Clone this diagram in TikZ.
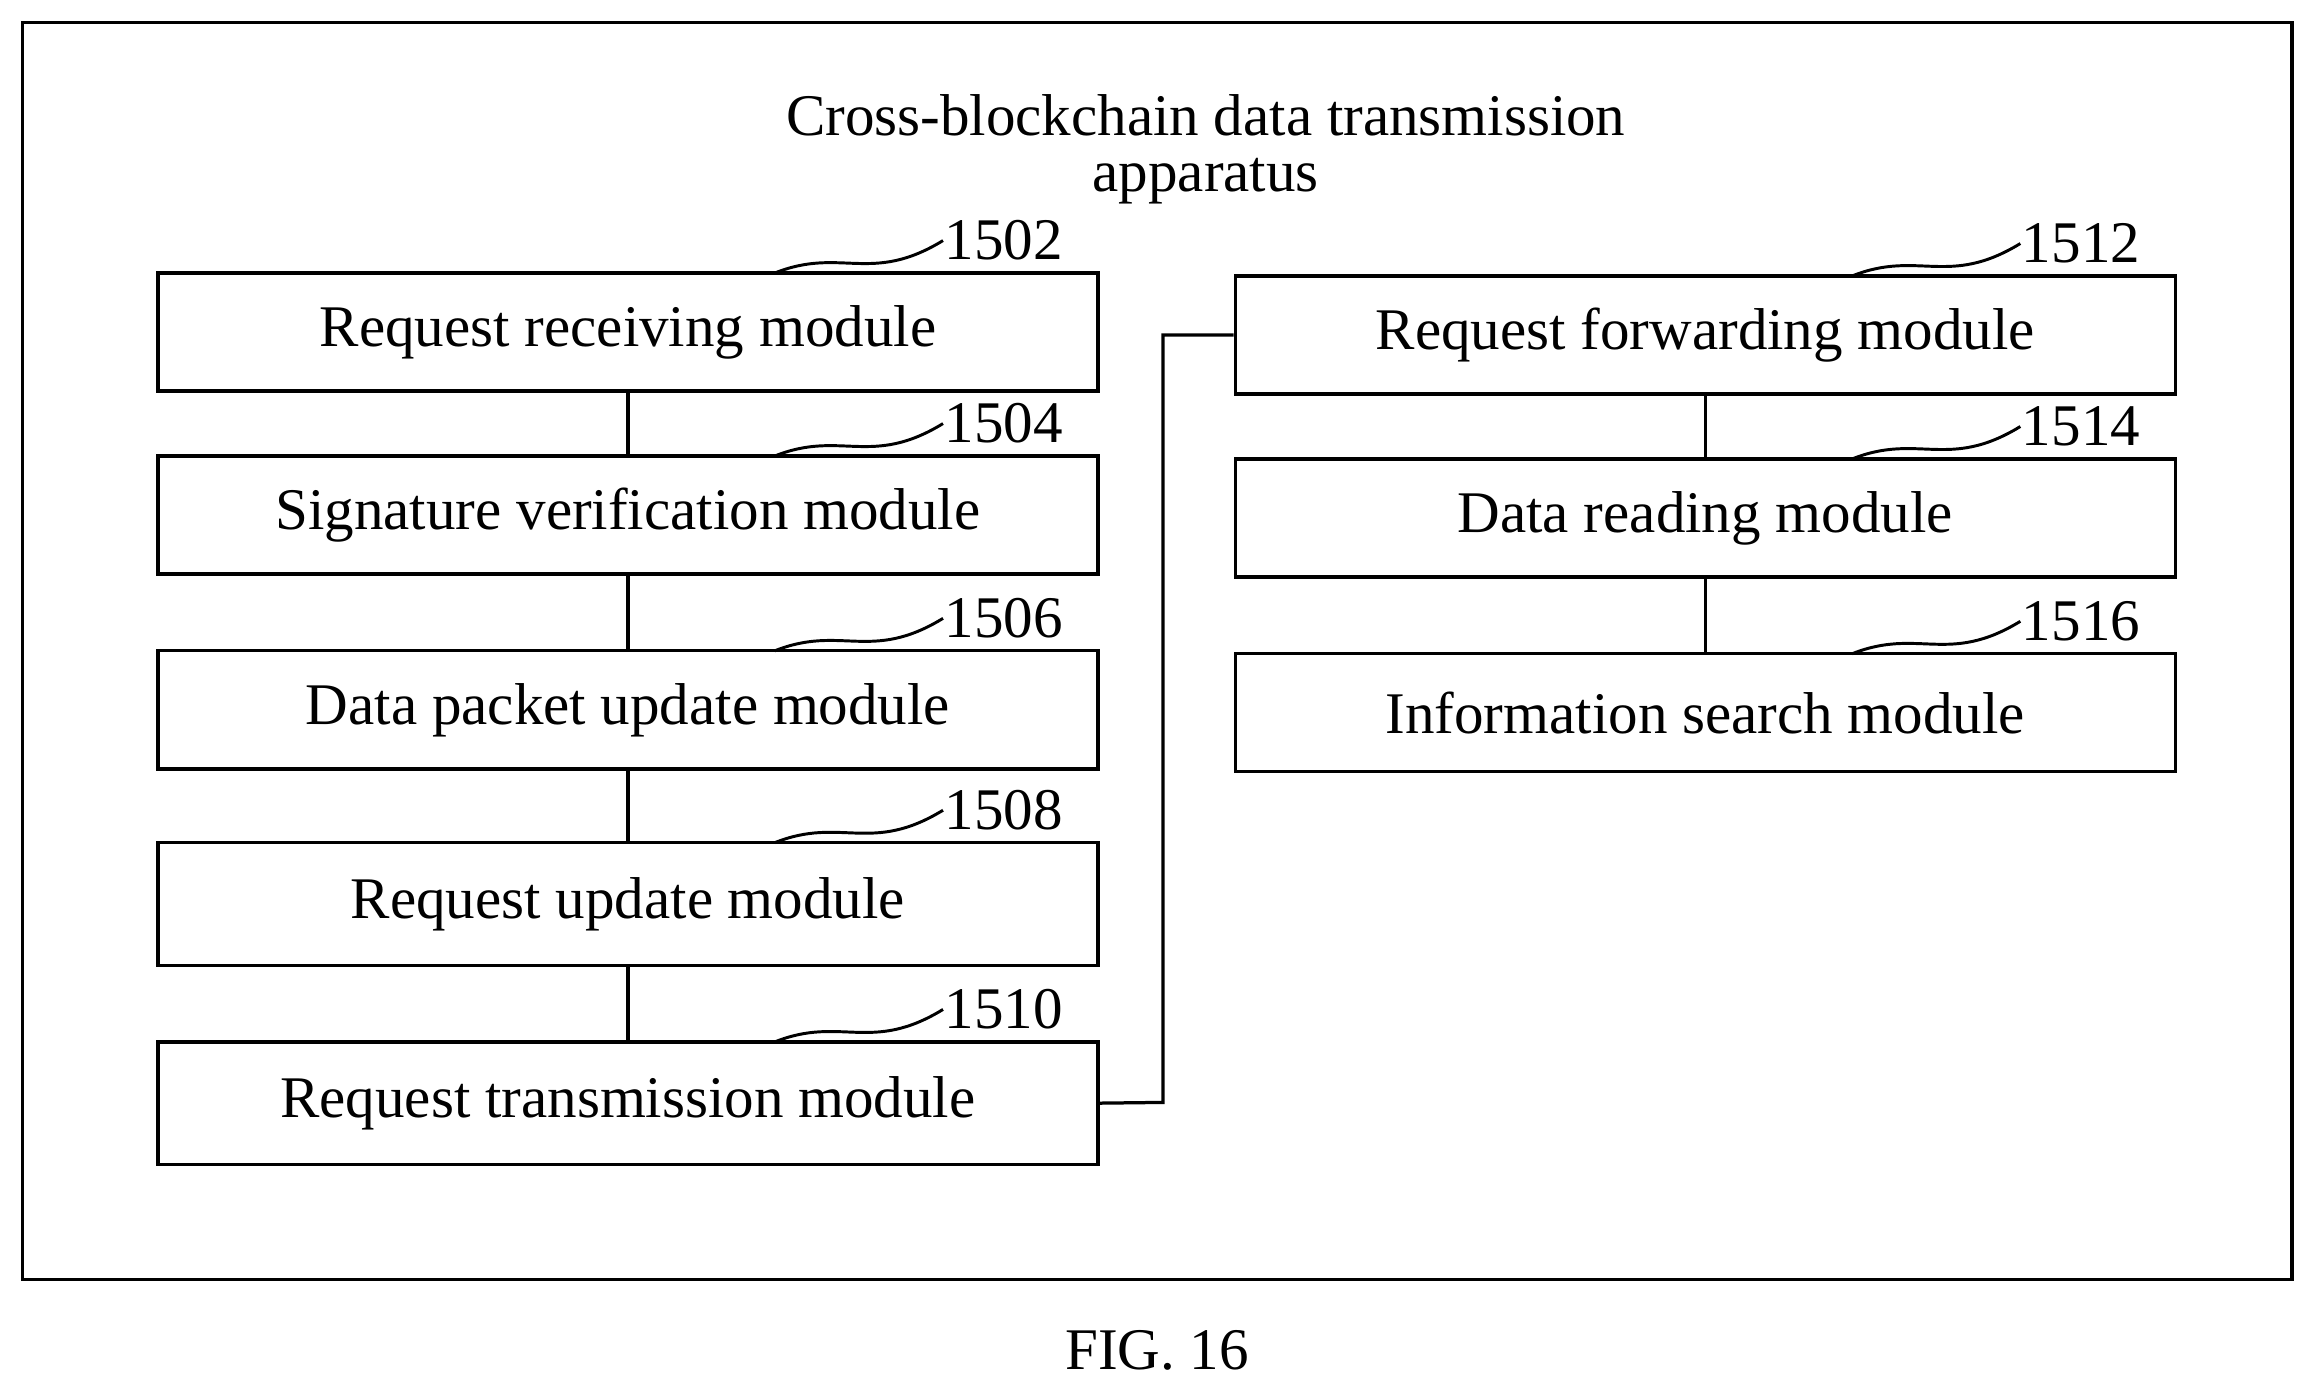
\documentclass[tikz,border=0pt]{standalone}
\usepackage{fontspec}
\setmainfont{Liberation Serif}
\begin{document}
\begin{tikzpicture}[x=1pt,y=-1pt,line width=2.2pt,
  box/.style={draw,minimum width=637pt,inner sep=0pt,font=\fontsize{40}{44}\selectfont},
  lbl/.style={font=\fontsize{40}{44}\selectfont,inner sep=0pt},
  sq/.style={line width=2pt}]
\useasboundingbox (0,0) rectangle (1568,946);
\node[draw,minimum width=1538pt,minimum height=852pt,inner sep=0pt] (frame) at (784,441) {};
\node[lbl,align=center] (title) at (817,101) {Cross-blockchain data transmission\\[-6pt]apparatus};
\node[box,minimum height=80pt] (b1) at (425.5,225) {Request receiving module};
\node[box,minimum height=80pt] (b2) at (425.5,349) {Signature verification module};
\node[box,minimum height=80pt] (b3) at (425.5,481) {Data packet update module};
\node[box,minimum height=83pt] (b4) at (425.5,612.5) {Request update module};
\node[box,minimum height=83pt] (b5) at (425.5,747.5) {Request transmission module};
\node[box,minimum height=80pt] (r1) at (1155.5,227) {Request forwarding module};
\node[box,minimum height=80pt] (r2) at (1155.5,351) {Data reading module};
\node[box,minimum height=80pt] (r3) at (1155.5,483) {Information search module};
\draw (b1) -- (b2); \draw (b2) -- (b3); \draw (b3) -- (b4); \draw (b4) -- (b5);
\draw (r1) -- (r2); \draw (r2) -- (r3);
\coordinate (m1) at (788,747); \coordinate (m2) at (788,227);
\draw (b5.east) -- (m1) -- (m2) -- (r1.west);
\foreach \n/\x/\y/\t in {l1/525/185/1502,l2/525/309/1504,l3/525/441/1506,l4/525/571/1508,l5/525/706/1510,l6/1255/187/1512,l7/1255/311/1514,l8/1255/443/1516}{
  \node[lbl,anchor=west] (\n) at (\x+114,\y-22) {\t};
  \draw[sq] (\x,\y) .. controls (\x+45,\y-18) and (\x+65,\y+8) .. (\n.west);
}
\node[lbl] (fig) at (784,915) {FIG. 16};
\end{tikzpicture}
\end{document}
